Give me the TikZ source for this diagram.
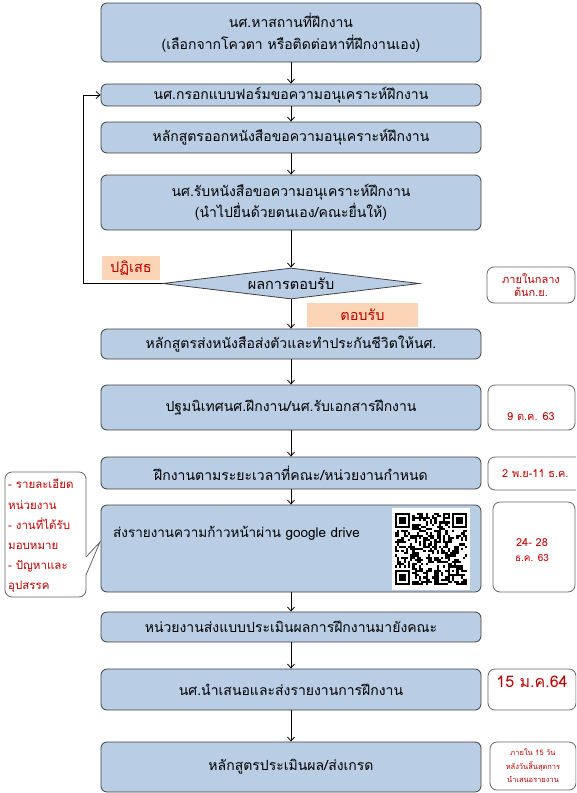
\documentclass[tikz,border=0pt]{standalone}
\usepackage{fontspec}
\setmainfont[Script=Thai]{Loma}
\usetikzlibrary{shapes.geometric,arrows.meta}

\definecolor{boxblue}{HTML}{B9CDE5}
\definecolor{boxline}{HTML}{3F3F3F}
\definecolor{tagorange}{HTML}{FBD5B5}
\definecolor{datered}{HTML}{C00000}

\tikzset{
  stepbox/.style={draw=boxline, fill=boxblue, rounded corners=6pt, line width=0.8pt,
    minimum width=380pt, inner sep=0pt, align=center, font=\fontsize{14}{22}\selectfont},
  datebox/.style={draw=black!60, fill=white, rounded corners=7pt, line width=0.8pt,
    inner sep=0pt, align=center, text=datered},
  datetext/.style={text=datered, inner sep=0pt, align=center},
  tag/.style={fill=tagorange, text=datered, inner sep=0pt, font=\fontsize{14.5}{16}\selectfont},
  flow/.style={black, line width=0.8pt, -{Straight Barb[length=4pt,width=7pt]}},
}

\begin{document}
\begin{tikzpicture}[x=1pt,y=-1pt]
\useasboundingbox (0,0) rectangle (576,793);
\clip (0,0) rectangle (576,793);

\node[stepbox, minimum height=59pt] (b1) at (291,32.5) {นศ.หาสถานที่ฝึกงาน\\(เลือกจากโควตา หรือติดต่อหาที่ฝึกงานเอง)};
\node[stepbox, minimum height=22pt] (b2) at (291,95) {นศ.กรอกแบบฟอร์มขอความอนุเคราะห์ฝึกงาน};
\node[stepbox, minimum height=31pt] (b3) at (291,137.5) {หลักสูตรออกหนังสือขอความอนุเคราะห์ฝึกงาน};
\node[stepbox, minimum height=55pt, font=\fontsize{14}{21}\selectfont] (b4) at (291,202.5) {นศ.รับหนังสือขอความอนุเคราะห์ฝึกงาน\\(นำไปยื่นด้วยตนเอง/คณะยื่นให้)};
\node[diamond, draw=boxline, fill=boxblue, line width=0.8pt, aspect=8.3, inner sep=0pt,
  minimum width=257pt, minimum height=31pt, font=\fontsize{14.5}{16}\selectfont] (dm) at (291,283.5) {ผลการตอบรับ};
\node[stepbox, minimum height=30pt] (b5) at (291,344) {หลักสูตรส่งหนังสือส่งตัวและทำประกันชีวิตให้นศ.};
\node[stepbox, minimum height=45pt] (b6) at (291,407.5) {ปฐมนิเทศนศ.ฝึกงาน/นศ.รับเอกสารฝึกงาน};
\node[stepbox, minimum height=32pt] (b7) at (291,473) {ฝึกงานตามระยะเวลาที่คณะ/หน่วยงานกำหนด};
\node[stepbox, minimum height=87pt] (b8) at (291,548.5) {};
\node[anchor=west, inner sep=0pt, font=\fontsize{13.5}{15}\selectfont] (b8t) at (113,533) {ส่งรายงานความก้าวหน้าผ่าน google drive};
\node[stepbox, minimum height=30pt] (b9) at (291,627) {หน่วยงานส่งแบบประเมินผลการฝึกงานมายังคณะ};
\node[stepbox, minimum height=41pt] (b10) at (291,689.5) {นศ.นำเสนอและส่งรายงานการฝึกงาน};
\node[stepbox, minimum height=50pt] (b11) at (291,767) {หลักสูตรประเมินผล/ส่งเกรด};

% QR code
\fill[white] (392,508) rectangle (470,590);
\pgfmathsetseed{17}
\begin{scope}[shift={(394.7,512.5)}, x=2.2pt, y=-2.2pt]
  \foreach \i in {0,...,32}
    \foreach \j in {0,...,32} {
      \pgfmathsetmacro\q{rnd}
      \ifdim\q pt<0.5pt \fill[black] (\i,\j) rectangle ++(1,1); \fi
    }
  \foreach \fx/\fy/\cx/\cy in {0/0/0/0, 26/0/25/0, 0/26/0/25} {
    \fill[white] (\cx,\cy) rectangle ++(8,8);
    \fill[black] (\fx,\fy) rectangle ++(7,7);
    \fill[white] (\fx+1,\fy+1) rectangle ++(5,5);
    \fill[black] (\fx+2,\fy+2) rectangle ++(3,3);
  }
  \fill[black] (24,24) rectangle ++(5,5);
  \fill[white] (25,25) rectangle ++(3,3);
  \fill[black] (26,26) rectangle ++(1,1);
\end{scope}

\draw[flow] (b1) -- (b2);
\draw[flow] (b2) -- (b3);
\draw[flow] (b3) -- (b4);
\draw[flow] (b4) -- (dm);
\draw[flow] (dm) -- (b5);
\draw[flow] (b5) -- (b6);
\draw[flow] (b6) -- (b7);
\draw[flow] (b7) -- (b8);
\draw[flow] (b8) -- (b9);
\draw[flow] (b9) -- (b10);
\draw[flow] (b10) -- (b11);
\coordinate (back) at (83,283.5);
\draw[flow] (dm.west) -- (back) -- (back |- b2.west) -- (b2.west);

\node[tag, minimum width=58pt, minimum height=24pt] (no) at (131,268) {ปฏิเสธ};
\node[tag, minimum width=111pt, minimum height=24pt] (yes) at (362.5,315) {ตอบรับ};

% dates
\node[datebox, minimum width=88pt, minimum height=36pt, font=\fontsize{11}{13.5}\selectfont] (d1) at (531,285) {ภายในกลาง\\ต้นก.ย.};
\node[datebox, minimum width=87pt, minimum height=45pt] (d2) at (531.5,407.5) {};
\node[datetext, font=\fontsize{11}{13}\selectfont] (d2t) at (531,417) {9 ต.ค. 63};
\node[datebox, minimum width=95pt, minimum height=33pt] (d3) at (535.5,473.5) {};
\node[datetext, anchor=west, font=\fontsize{11}{13}\selectfont] (d3t) at (502,473.5) {2 พ.ย-11 ธ.ค.};
\node[datebox, minimum width=82pt, minimum height=90pt] (d4) at (534,547) {};
\node[datetext, font=\fontsize{11}{15}\selectfont] (d4t) at (532,550) {24- 28\\{\fontsize{10}{12}\selectfont ธ.ค. 63}};
\node[datebox, minimum width=88pt, minimum height=41pt] (d5) at (532,689.5) {};
\node[datetext, font=\fontsize{16}{18}\selectfont] (d5t) at (532,682) {15 ม.ค.64};
\node[datebox, minimum width=86pt, minimum height=48pt, font=\fontsize{7.5}{13.5}\selectfont] (d6) at (533,766) {ภายใน 15 วัน\\หลังวันสิ้นสุดการ\\นำเสนอรายงาน};

% note
\node[datebox, minimum width=81pt, minimum height=125pt] (note) at (45.5,534.5) {};
\fill[white] (85.2,557) -- (100,542) -- (85.2,575) -- cycle;
\draw[black!60, line width=0.8pt] (86,557) -- (100,542) -- (86,575);
\node[datetext, anchor=north west, align=left, font=\fontsize{11.5}{20.2}\selectfont] (notet) at (8,479) {- รายละเอียด\\หน่วยงาน\\- งานที่ได้รับ\\มอบหมาย\\- ปัญหาและ\\อุปสรรค};

\end{tikzpicture}
\end{document}
